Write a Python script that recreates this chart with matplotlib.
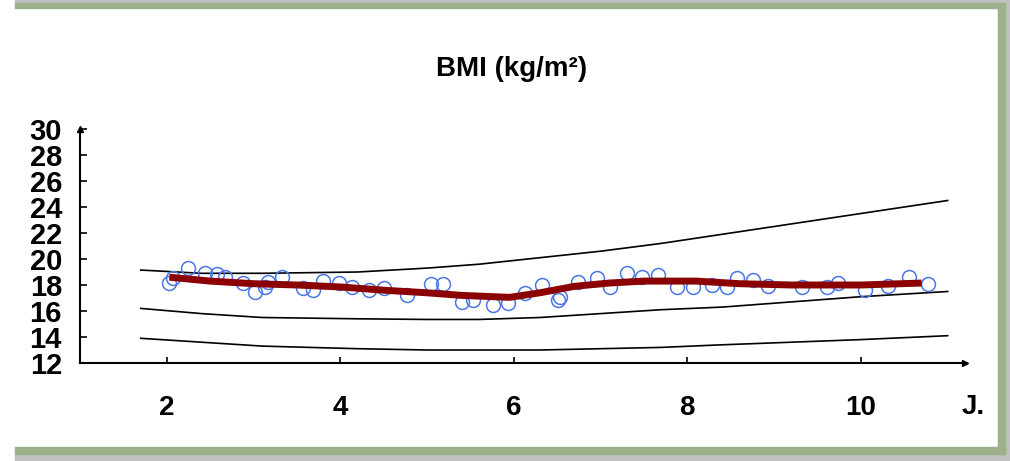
import matplotlib.pyplot as plt
from matplotlib.patches import Rectangle

# percentile reference curves (age in years, BMI)
p_age = [1.7, 2.4, 3.1, 4.2, 5.0, 5.6, 6.3, 7.0, 7.7, 8.4, 9.2, 10.0, 11.0]
p_upper = [19.15, 18.9, 18.9, 19.0, 19.3, 19.6, 20.1, 20.6, 21.2, 21.9, 22.7, 23.5, 24.5]
p_mid = [16.2, 15.8, 15.5, 15.4, 15.35, 15.35, 15.5, 15.8, 16.1, 16.3, 16.7, 17.1, 17.5]
p_lower = [13.9, 13.6, 13.3, 13.1, 13.0, 13.0, 13.0, 13.1, 13.2, 13.4, 13.6, 13.8, 14.1]

# measured points
pt_age = [2.03, 2.07, 2.24, 2.44, 2.58, 2.67, 2.88, 3.02, 3.13, 3.17, 3.33, 3.57, 3.68,
          3.80, 3.99, 4.14, 4.33, 4.50, 4.77, 5.05, 5.18, 5.40, 5.53, 5.76, 5.93, 6.13,
          6.33, 6.51, 6.53, 6.74, 6.96, 7.11, 7.30, 7.48, 7.66, 7.88, 8.06, 8.28, 8.46,
          8.57, 8.76, 8.93, 9.32, 9.61, 9.74, 10.05, 10.31, 10.56, 10.77]
pt_bmi = [18.15, 18.54, 19.3, 18.92, 18.85, 18.6, 18.15, 17.46, 17.85, 18.23, 18.6, 17.77, 17.62,
          18.31, 18.15, 17.85, 17.62, 17.77, 17.23, 18.08, 18.08, 16.7, 16.85, 16.46, 16.6, 17.4,
          18.0, 16.85, 17.08, 18.23, 18.54, 17.85, 18.92, 18.6, 18.77, 17.85, 17.85, 18.0, 17.85,
          18.54, 18.38, 17.92, 17.85, 17.85, 18.15, 17.62, 17.92, 18.62, 18.08]

# smoothed individual curve
fit_age = [2.03, 2.5, 3.0, 3.5, 4.0, 4.5, 5.0, 5.4, 5.95, 6.3, 6.7, 7.1, 7.5, 8.1, 8.6, 9.2, 10.0, 10.7]
fit_bmi = [18.6, 18.3, 18.1, 18.0, 17.85, 17.6, 17.4, 17.2, 17.05, 17.4, 17.9, 18.15, 18.3, 18.3, 18.1, 18.0, 18.0, 18.15]

yticks = list(range(12, 31, 2))
xticks = [2, 4, 6, 8, 10]

plt.rcParams['font.family'] = ['Liberation Sans', 'DejaVu Sans']

W, H = 1010, 461
fig = plt.figure(figsize=(W / 100, H / 100), dpi=100)

# window frame (green band with grey shadow)
grey = '#c0c0c0'
green = '#9db18a'
def px_rect(x0, y0, x1, y1, color):
    fig.patches.append(Rectangle((x0 / W, 1 - y1 / H), (x1 - x0) / W, (y1 - y0) / H,
                                 transform=fig.transFigure, color=color, zorder=0))
px_rect(15, 0, 1010, 3, grey)
px_rect(1005, 0, 1010, 461, grey)
px_rect(15, 454, 1010, 461, grey)
px_rect(15, 3, 1005, 8, green)
px_rect(998, 3, 1005, 454, green)
px_rect(15, 447, 1005, 454, green)

ax = fig.add_axes([80 / W, 1 - 363 / H, (965 - 80) / W, (363 - 129) / H])
ax.set_xlim(1.0, 11.2)
ax.set_ylim(12, 30)

ax.plot(p_age, p_upper, color='black', lw=1.2)
ax.plot(p_age, p_mid, color='black', lw=1.2)
ax.plot(p_age, p_lower, color='black', lw=1.2)
ax.plot(pt_age, pt_bmi, 'o', mfc='none', mec='#4a76e6', ms=10, mew=1.1, zorder=3)
ax.plot(fit_age, fit_bmi, color='#8b0000', lw=5, zorder=4, solid_capstyle='butt')

for s in ['top', 'right']:
    ax.spines[s].set_visible(False)
for s in ['left', 'bottom']:
    ax.spines[s].set_linewidth(1.5)
ax.plot(1, 0, '>k', ms=5, transform=ax.transAxes, clip_on=False)
ax.plot(0, 1, '^k', ms=5, transform=ax.transAxes, clip_on=False)

ax.set_yticks(yticks)
ax.set_yticklabels([str(v) for v in yticks], fontweight='bold')
ax.set_xticks(xticks)
ax.set_xticklabels([str(v) for v in xticks], fontweight='bold')
ax.tick_params(axis='y', direction='in', length=5, width=1.2, pad=13, labelsize=21)
ax.tick_params(axis='x', direction='in', length=4, width=1.2, pad=23, labelsize=20)

fig.text(512 / W, 1 - 69 / H, 'BMI (kg/m²)', ha='center', va='center', fontsize=20, fontweight='bold')
fig.text(973 / W, 1 - 407 / H, 'J.', ha='center', va='center', fontsize=20, fontweight='bold')

plt.savefig('out.png', dpi=100)
